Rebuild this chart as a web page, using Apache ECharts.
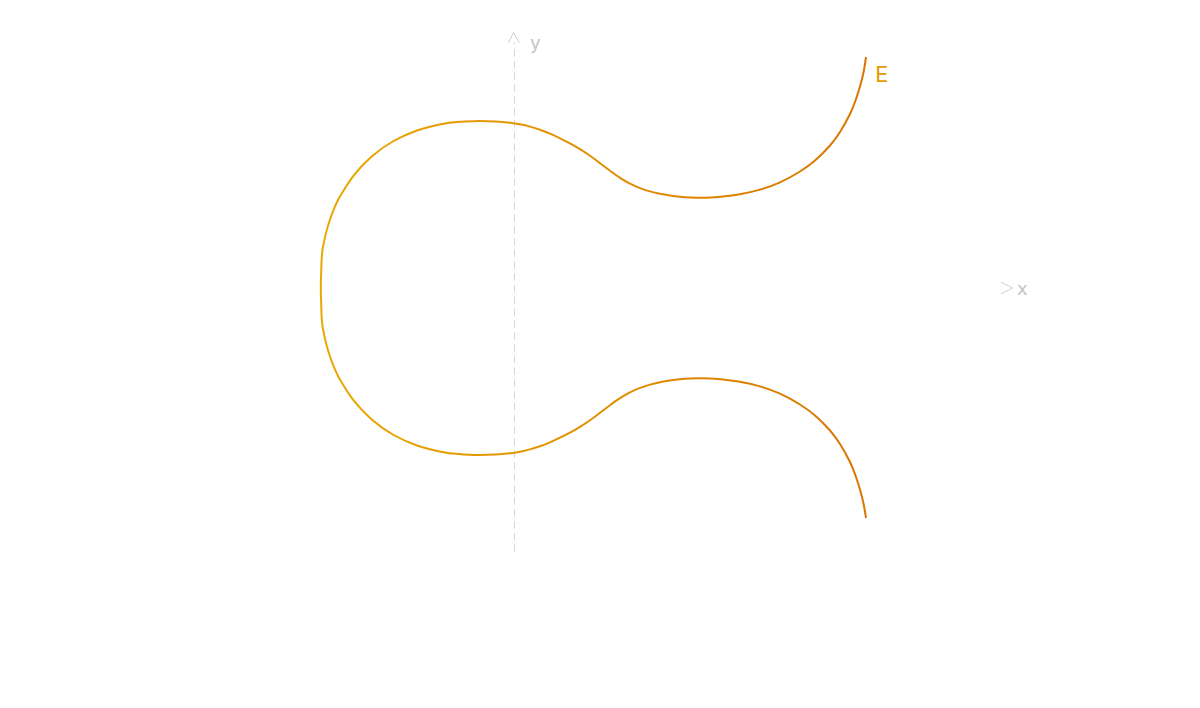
<!DOCTYPE html>
<html>
<head>
<meta charset="utf-8">
<script src="https://cdn.jsdelivr.net/npm/echarts@6/dist/echarts.min.js"></script>
<style>
html,body{margin:0;padding:0;background:#fff;}
#chart{width:1200px;height:708px;}
</style>
</head>
<body>
<div id="chart"></div>
<script>
// x positions along the curve (shared by both branches), from the root rightwards
var branchX = [-1.932,-1.927,-1.919,-1.891,-1.854,-1.806,-1.748,-1.602,-1.42,-1.204,-0.956,-0.677,-0.49,-0.34,-0.19,-0.04,0.06,0.16,0.26,0.36,0.46,0.56,0.66,0.76,0.86,0.96,1.06,1.16,1.26,1.36,1.46,1.56,1.66,1.76,1.86,1.96,2.06,2.26,2.46,2.66,2.86,3.01,3.16,3.26,3.36,3.42,3.47,3.50,3.52];
var upperY  = [0,0.191,0.352,0.502,0.643,0.777,0.902,1.127,1.318,1.47,1.58,1.648,1.664,1.67,1.666,1.653,1.637,1.614,1.583,1.543,1.497,1.446,1.388,1.322,1.248,1.172,1.102,1.044,0.999,0.966,0.942,0.925,0.913,0.906,0.903,0.905,0.912,0.938,0.984,1.057,1.165,1.275,1.425,1.56,1.74,1.89,2.05,2.18,2.31];
var lowerY  = [0,-0.191,-0.352,-0.502,-0.643,-0.777,-0.902,-1.127,-1.318,-1.47,-1.58,-1.648,-1.664,-1.67,-1.666,-1.653,-1.637,-1.614,-1.583,-1.543,-1.497,-1.446,-1.388,-1.322,-1.248,-1.172,-1.102,-1.044,-0.999,-0.966,-0.942,-0.925,-0.913,-0.906,-0.903,-0.905,-0.912,-0.938,-0.984,-1.057,-1.165,-1.275,-1.425,-1.56,-1.74,-1.89,-2.05,-2.18,-2.30];
var curveName = 'E';
var axisNames = ['x', 'y'];
var xRange = [-3, 4.87];
var yRange = [-2.637, 2.45];

var upperPts = branchX.map(function (x, i) { return [x, upperY[i]]; });
var lowerPts = branchX.map(function (x, i) { return [x, lowerY[i]]; });
var curveData = lowerPts.slice().reverse().concat(upperPts.slice(1));

var chart = echarts.init(document.getElementById('chart'), null, {renderer: 'svg'});
var option = {
  animation: false,
  backgroundColor: '#ffffff',
  grid: {left: 214, right: 199, top: 43, bottom: 156.3, containLabel: false},
  xAxis: {
    type: 'value', min: xRange[0], max: xRange[1],
    name: axisNames[0], nameLocation: 'end', nameGap: 16,
    nameTextStyle: {color: '#c4c4c4', fontSize: 18, fontFamily: 'DejaVu Sans', align: 'left', verticalAlign: 'middle'},
    axisLine: {show: false},
    axisTick: {show: false}, axisLabel: {show: false}, splitLine: {show: false}
  },
  yAxis: {
    type: 'value', min: yRange[0], max: yRange[1],
    name: axisNames[1], nameLocation: 'end', nameGap: 1,
    nameTextStyle: {color: '#c4c4c4', fontSize: 18, fontFamily: 'DejaVu Sans', align: 'left', verticalAlign: 'middle', padding: [0, 0, 0, 16]},
    axisLine: {show: true, onZero: true, lineStyle: {color: '#d6d6d6', width: 1, type: [6.8, 5]}},
    axisTick: {show: false}, axisLabel: {show: false}, splitLine: {show: false}
  },
  series: [{
    name: curveName,
    type: 'line',
    data: curveData,
    smooth: 0.3,
    showSymbol: false,
    symbol: 'none',
    lineStyle: {
      width: 2,
      color: {type: 'linear', x: 0, y: 0, x2: 1, y2: 0,
        colorStops: [{offset: 0, color: '#eaa800'}, {offset: 1, color: '#d97500'}]}
    },
    endLabel: {
      show: true, formatter: curveName, color: '#e39c00', fontSize: 21,
      fontFamily: 'DejaVu Sans', offset: [1, 18]
    }
  }]
};
chart.setOption(option);

var yTop = chart.convertToPixel({gridIndex: 0}, [0, yRange[1]]);
var xEnd = chart.convertToPixel({gridIndex: 0}, [xRange[1], 0]);
chart.setOption({
  graphic: [
    {type: 'polyline', silent: true,
     shape: {points: [[yTop[0] - 5.7, yTop[1]], [yTop[0] - 0.5, yTop[1] - 10.5], [yTop[0] + 5.3, yTop[1]]]},
     style: {stroke: '#cfcfcf', lineWidth: 1, fill: null}},
    {type: 'polyline', silent: true,
     shape: {points: [[xEnd[0], xEnd[1] - 6], [xEnd[0] + 11.7, xEnd[1]], [xEnd[0], xEnd[1] + 6]]},
     style: {stroke: '#cfcfcf', lineWidth: 1, fill: null}}
  ]
});
</script>
</body>
</html>
